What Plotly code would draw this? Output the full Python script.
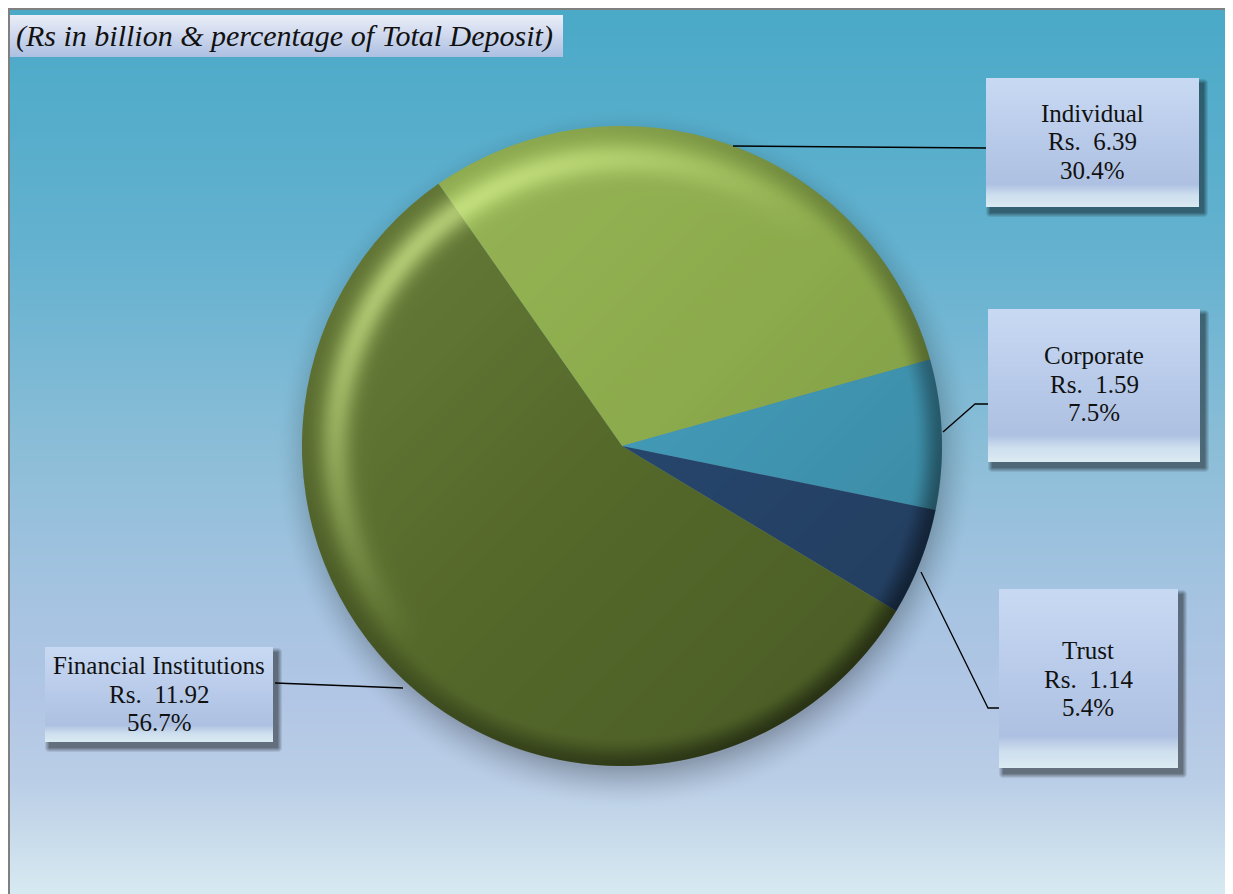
import numpy as np
import zlib, struct, base64
import plotly.graph_objects as go

# ---------------- data ----------------
categories = ["Individual", "Corporate", "Trust", "Financial Institutions"]
amounts = [6.39, 1.59, 1.14, 11.92]          # Rs in billion
percents = [30.4, 7.5, 5.4, 56.7]            # % of total deposit
title_text = "(Rs in billion & percentage of Total Deposit)"

# ---------------- style ----------------
colors = ["#8cab4c", "#4299b6", "#27466c", "#55692b"]
OFF = 8                      # page body margin
W, H = 1225, 886             # figure size
FONT = "Liberation Serif, Times New Roman, serif"
# geometry below given in page pixels
CX, CY, R = 622, 446, 320

def X(px):
    return (px - OFF) / W

def Y(py):
    return 1 - (py - OFF) / H

def png_uri(arr):
    arr = np.ascontiguousarray(arr.astype(np.uint8))
    h, w, c = arr.shape
    raw = b"".join(b"\x00" + arr[i].tobytes() for i in range(h))
    def chunk(t, d):
        return struct.pack(">I", len(d)) + t + d + struct.pack(">I", zlib.crc32(t + d) & 0xffffffff)
    ct = 2 if c == 3 else 6
    png = (b"\x89PNG\r\n\x1a\n"
           + chunk(b"IHDR", struct.pack(">IIBBBBB", w, h, 8, ct, 0, 0, 0))
           + chunk(b"IDAT", zlib.compress(raw, 9))
           + chunk(b"IEND", b""))
    return "data:image/png;base64," + base64.b64encode(png).decode()

# ---------------- background image (figure pixel space) ----------------
yy, xx = np.mgrid[0:H, 0:W].astype(float)
yy += OFF   # work in page coordinates
xx += OFF
stops_y = [10, 250, 450, 600, 700, 780, 894]
stops_c = [(74, 170, 200), (100, 178, 208), (140, 190, 216), (166, 196, 226),
           (178, 199, 229), (186, 206, 231), (216, 234, 241)]
bg = np.zeros((H, W, 3))
rows_page = np.arange(H) + OFF
for ch in range(3):
    col = np.interp(rows_page, stops_y, [c[ch] for c in stops_c])
    bg[:, :, ch] = col[:, None]

# soft shadow under the pie
d = np.sqrt((xx - (CX + 3)) ** 2 + (yy - (CY + 12)) ** 2)
t = np.clip(1 - (d - (R - 10)) / 40.0, 0, 1)
s = 0.24 * t ** 1.6
bg *= (1 - s)[:, :, None]

boxes = [(986, 78, 1199, 207), (988, 309, 1200, 462), (999, 589, 1178, 768), (45, 647, 273, 742)]
for (x0, y0, x1, y1) in boxes:
    sx0, sy0, sx1, sy1 = x0 + 4, y0 + 5, x1 + 4, y1 + 5
    dx = np.maximum(np.maximum(sx0 - xx, xx - sx1), 0)
    dy = np.maximum(np.maximum(sy0 - yy, yy - sy1), 0)
    dd = np.sqrt(dx ** 2 + dy ** 2)
    sh = 0.45 * np.clip(1 - dd / 5.0, 0, 1)
    bg *= (1 - sh)[:, :, None]

def fill_box(x0, y0, x1, y1, ts, cs):
    hgt = y1 - y0
    rows = np.arange(y0, y1)
    tt = (rows - y0) / hgt
    for ch in range(3):
        col = np.interp(tt, ts, [c[ch] for c in cs])
        bg[y0 - OFF:y1 - OFF, x0 - OFF:x1 - OFF, ch] = col[:, None]

for (x0, y0, x1, y1) in boxes:
    fill_box(x0, y0, x1, y1, [0, 0.5, 0.82, 0.9, 1.0],
             [(200, 218, 243), (184, 202, 233), (174, 193, 226), (205, 222, 238), (220, 236, 243)])
fill_box(10, 15, 563, 57, [0, 0.45, 1.0], [(234, 238, 248), (208, 217, 238), (172, 192, 226)])

# grey frame on top / left edge
bg[0:2, :, :] = 128
bg[:, 0:2, :] = 128
bg_uri = png_uri(np.clip(bg, 0, 255))

# ---------------- pie shading overlay ----------------
S = 2 * R
oy, ox = np.mgrid[0:S, 0:S].astype(float) + 0.5
dx, dy = ox - R, oy - R
dist = np.sqrt(dx ** 2 + dy ** 2)
rr = dist / R
safe = np.where(dist > 0, dist, 1)
ux, uy = dx / safe, dy / safe
dot = (-ux - uy) / np.sqrt(2)  # 1 = towards upper-left

def smooth(a, b, v):
    q = np.clip((v - a) / (b - a), 0, 1)
    return q * q * (3 - 2 * q)

hi = 0.55 * np.clip(dot, 0, 1) ** 1.2 * np.exp(-((rr - 0.895) / 0.05) ** 2)
hi += 0.12 * np.clip(dot, 0, 1) * np.clip(rr, 0, 1)
dk = 0.42 * smooth(0.91, 1.0, rr) * (0.55 + 0.45 * np.clip(-dot, -1, 1))
dk += 0.10 * np.clip(-dot, 0, 1) * rr
cov = np.clip((R - dist) + 0.5, 0, 1)
hi = np.clip(hi, 0, 1) * cov
dk = np.clip(dk, 0, 1) * cov
alpha = hi + dk - hi * dk
safe_a = np.where(alpha > 0, alpha, 1)
wgt = np.where(alpha > 0, hi * (1 - dk) / safe_a, 0)
hl = (222, 248, 150)  # yellow-green highlight tint
ov = np.zeros((S, S, 4))
for ch in range(3):
    ov[:, :, ch] = hl[ch] * wgt
ov[:, :, 3] = 255 * alpha
ov_uri = png_uri(np.clip(ov, 0, 255))

# ---------------- figure ----------------
fig = go.Figure()
fig.add_trace(go.Pie(
    labels=categories,
    values=amounts,
    sort=False,
    direction="clockwise",
    rotation=-35,
    marker=dict(colors=colors, line=dict(width=0)),
    textinfo="none",
    hoverinfo="label+value+percent",
    showlegend=False,
    domain=dict(x=[X(CX - R), X(CX + R)], y=[Y(CY + R), Y(CY - R)]),
))

images = [
    dict(source=bg_uri, xref="paper", yref="paper", x=0, y=1, sizex=1, sizey=1,
         xanchor="left", yanchor="top", sizing="stretch", layer="below"),
    dict(source=ov_uri, xref="paper", yref="paper", x=X(CX - R), y=Y(CY - R),
         sizex=S / W, sizey=S / H, xanchor="left", yanchor="top", sizing="stretch", layer="above"),
]

# leader lines (page pixel paths)
leaders = [
    [(733, 146), (986, 148)],
    [(943, 432), (975, 404), (988, 404)],
    [(921, 572), (988, 708), (999, 708)],
    [(403, 688), (275, 683)],
]
shapes = []
for pts in leaders:
    path = "M " + " L ".join(f"{X(px):.5f},{Y(py):.5f}" for px, py in pts)
    shapes.append(dict(type="path", path=path, xref="paper", yref="paper",
                       line=dict(color="black", width=1.3)))

# label text (one annotation per line)
label_pos = [(1092, 142), (1094, 384), (1088, 679), (159, 694)]
annotations = []
line_gap = 28.5
for cat, amt, pct, (lx, ly) in zip(categories, amounts, percents, label_pos):
    lines = [cat, f"Rs.\u00a0 {amt:.2f}", f"{pct:.1f}%"]
    for k, ln in enumerate(lines):
        annotations.append(dict(
            text=ln, x=X(lx), y=Y(ly + (k - 1) * line_gap), xref="paper", yref="paper",
            xanchor="center", yanchor="middle", showarrow=False,
            font=dict(family=FONT, size=25, color="#111111")))
annotations.append(dict(
    text=f"<i>{title_text}</i>", x=X(14), y=Y(36), xref="paper", yref="paper",
    xanchor="left", yanchor="middle", showarrow=False,
    font=dict(family=FONT, size=30, color="#111111")))

fig.update_layout(
    width=W, height=H,
    margin=dict(l=0, r=0, t=0, b=0),
    paper_bgcolor="white",
    plot_bgcolor="rgba(0,0,0,0)",
    images=images,
    shapes=shapes,
    annotations=annotations,
)

fig.write_html(
    "out.html",
    post_script="document.documentElement.style.overflow='hidden';document.body.style.overflow='hidden';",
)
